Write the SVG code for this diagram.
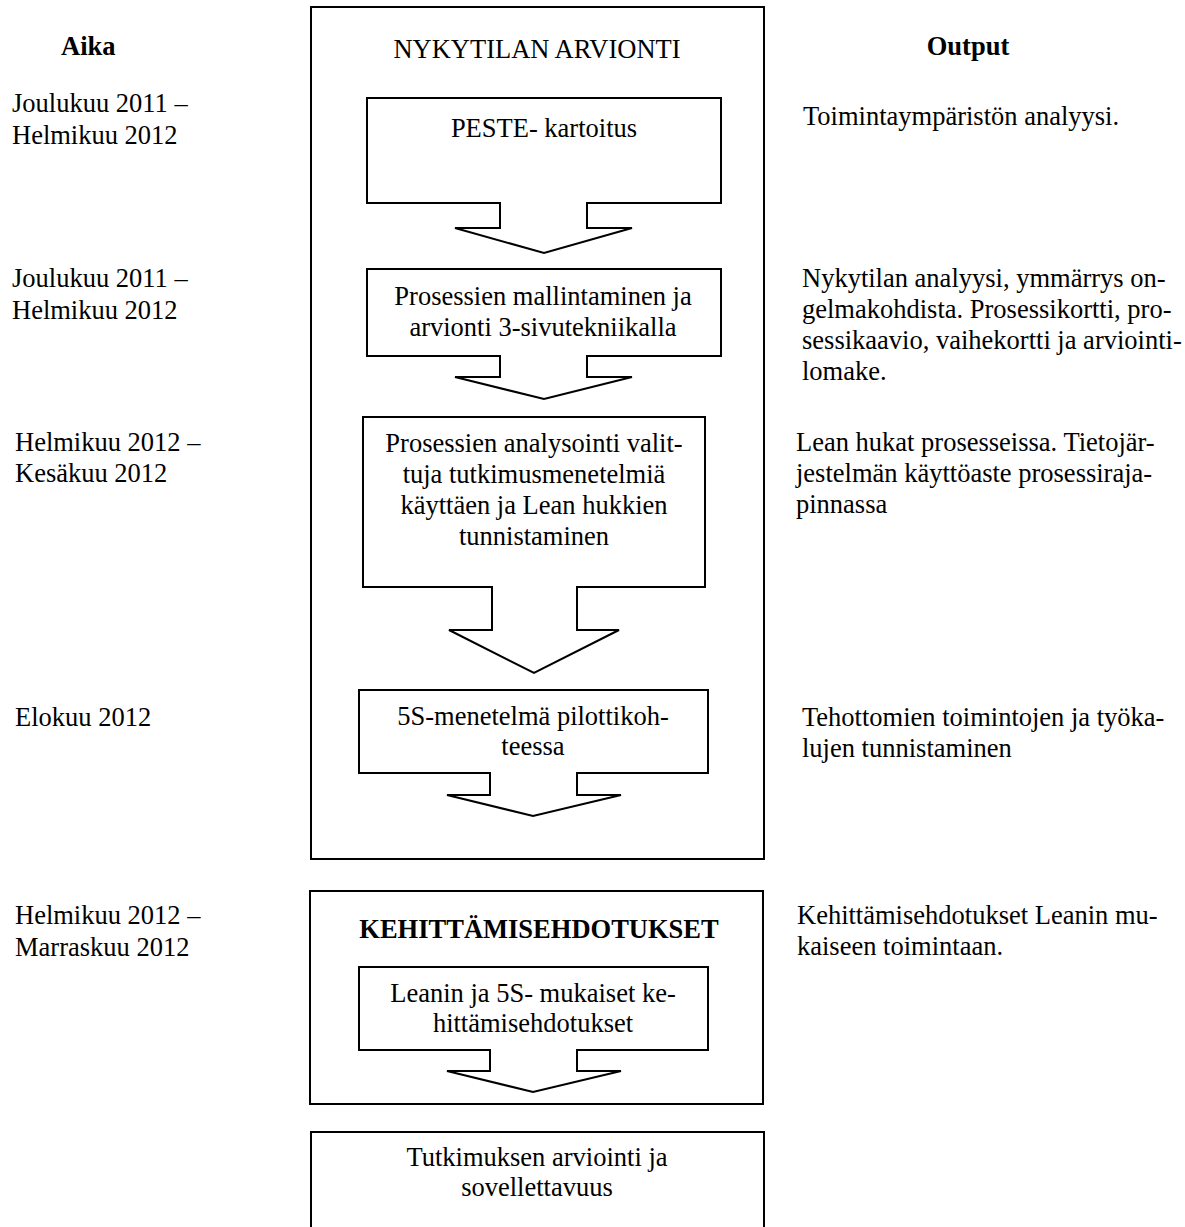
<svg xmlns="http://www.w3.org/2000/svg" width="1185" height="1227" viewBox="0 0 1185 1227">
<style>
text{font-family:"Liberation Serif","Times New Roman",serif;font-size:26.5px;fill:#000}
.b{font-weight:bold}
.c{text-anchor:middle}
.box{fill:none;stroke:#000;stroke-width:2}
.arr{fill:#fff;stroke:#000;stroke-width:2;stroke-linejoin:miter}
</style>
<rect width="1185" height="1227" fill="#fff"/>
<g id="col-aika">
<text class="b" x="61" y="55">Aika</text>
<text x="12" y="112">Joulukuu 2011 –</text>
<text x="12" y="144">Helmikuu 2012</text>
<text x="12" y="287">Joulukuu 2011 –</text>
<text x="12" y="319">Helmikuu 2012</text>
<text x="15" y="451">Helmikuu 2012 –</text>
<text x="15" y="482">Kesäkuu 2012</text>
<text x="15" y="726">Elokuu 2012</text>
<text x="15" y="924">Helmikuu 2012 –</text>
<text x="15" y="956">Marraskuu 2012</text>
</g>
<g id="col-output">
<text class="b c" x="968" y="55">Output</text>
<text x="803" y="125">Toimintaympäristön analyysi.</text>
<text x="802" y="287">Nykytilan analyysi, ymmärrys on-</text>
<text x="802" y="318">gelmakohdista. Prosessikortti, pro-</text>
<text x="802" y="349">sessikaavio, vaihekortti ja arviointi-</text>
<text x="802" y="380">lomake.</text>
<text x="796" y="451">Lean hukat prosesseissa. Tietojär-</text>
<text x="796" y="482">jestelmän käyttöaste prosessiraja-</text>
<text x="796" y="513">pinnassa</text>
<text x="802" y="726">Tehottomien toimintojen ja työka-</text>
<text x="802" y="757">lujen tunnistaminen</text>
<text x="797" y="924">Kehittämisehdotukset Leanin mu-</text>
<text x="797" y="955">kaiseen toimintaan.</text>
</g>
<g id="nykytila">
<rect class="box" x="311" y="7" width="453" height="852"/>
<text class="c" x="537" y="58">NYKYTILAN ARVIONTI</text>
</g>
<g id="peste">
<polygon class="arr" points="367,98 721,98 721,203 587,203 587,228 632,228 544,253 455,228 500,228 500,203 367,203"/>
<text class="c" x="544" y="137">PESTE- kartoitus</text>
</g>
<g id="mallintaminen">
<polygon class="arr" points="367,269 721,269 721,356 587,356 587,377 632,377 544,399 455,377 500,377 500,356 367,356"/>
<text class="c" x="543" y="305">Prosessien mallintaminen ja</text>
<text class="c" x="543" y="336">arvionti 3-sivutekniikalla</text>
</g>
<g id="analysointi">
<polygon class="arr" points="363,417 705,417 705,587 577,587 577,630 619,630 534,673 449,630 492,630 492,587 363,587"/>
<text class="c" x="534" y="452">Prosessien analysointi valit-</text>
<text class="c" x="534" y="483">tuja tutkimusmenetelmiä</text>
<text class="c" x="534" y="514">käyttäen ja Lean hukkien</text>
<text class="c" x="534" y="545">tunnistaminen</text>
</g>
<g id="viisis">
<polygon class="arr" points="359,690 708,690 708,773 577,773 577,795 621,795 533,816 447,795 490,795 490,773 359,773"/>
<text class="c" x="533" y="725">5S-menetelmä pilottikoh-</text>
<text class="c" x="533" y="755">teessa</text>
</g>
<g id="kehittamis">
<rect class="box" x="310" y="891" width="453" height="213"/>
<text class="b c" x="539" y="938">KEHITTÄMISEHDOTUKSET</text>
</g>
<g id="ehdotukset">
<polygon class="arr" points="359,967 708,967 708,1050 577,1050 577,1071 621,1071 533,1092 447,1071 490,1071 490,1050 359,1050"/>
<text class="c" x="533" y="1002">Leanin ja 5S- mukaiset ke-</text>
<text class="c" x="533" y="1032">hittämisehdotukset</text>
</g>
<g id="tutkimus">
<path class="box" d="M311,1240 V1132 H764 V1240"/>
<text class="c" x="537" y="1166">Tutkimuksen arviointi ja</text>
<text class="c" x="537" y="1196">sovellettavuus</text>
</g>
<g id="connectors"></g>
</svg>
